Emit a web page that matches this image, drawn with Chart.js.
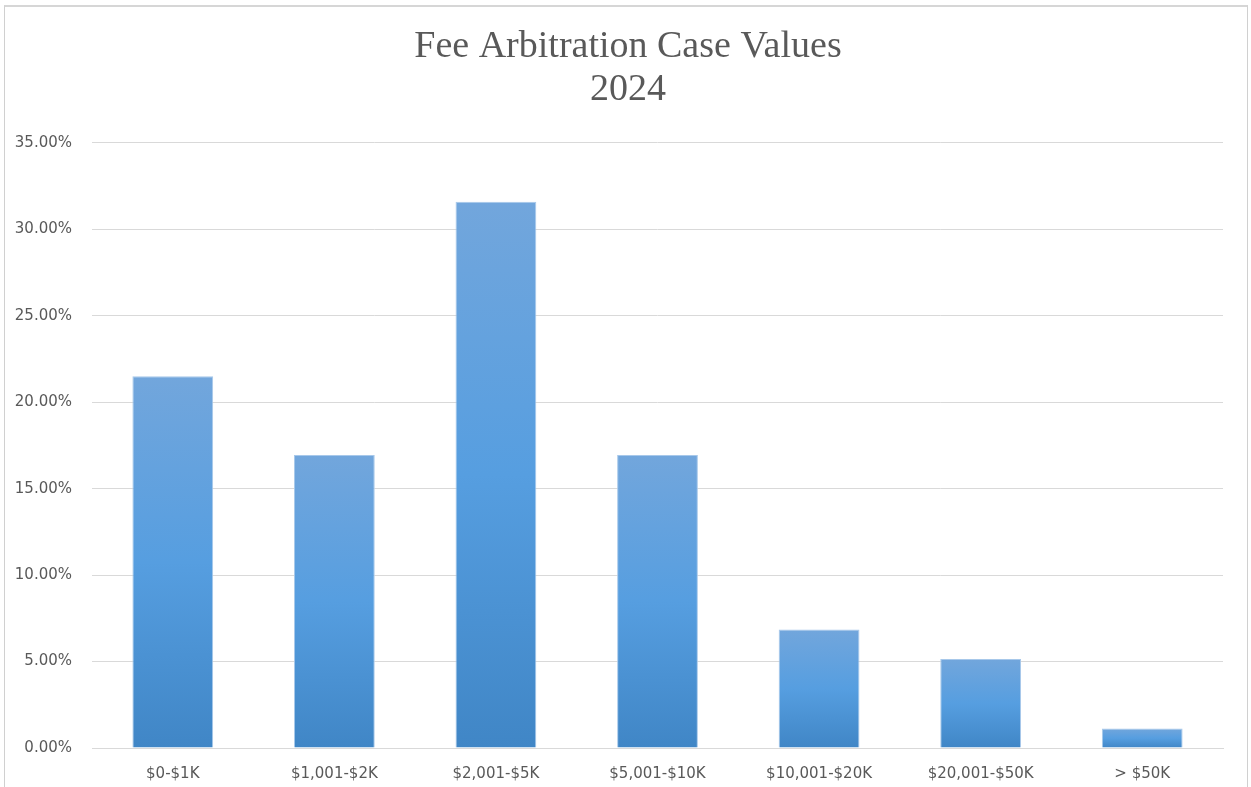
<!DOCTYPE html>
<html>
<head>
<meta charset="utf-8">
<script src="https://cdn.jsdelivr.net/npm/chart.js@4.4.1/dist/chart.umd.min.js"></script>
<style>
  html, body { margin: 0; padding: 0; background: #fff; }
  #wrap { position: relative; width: 1251px; height: 787px; overflow: hidden; }
  #frame {
    position: absolute; left: 4px; top: 5px; width: 1244px; height: 800px;
    border-left: 1px solid #d0d0d0; border-right: 1px solid #d0d0d0; border-top: 2px solid #d6d6d6;
    box-sizing: border-box;
  }
  #chart { position: absolute; left: 0; top: 0; }
</style>
</head>
<body>
<div id="wrap">
  <div id="frame"></div>
  <canvas id="chart" width="1251" height="787"></canvas>
</div>
<script>
// ===============================
// DATOS
// ===============================
const titleLines = ["Fee Arbitration Case Values", "2024"];
const categories = ["$0-$1K", "$1,001-$2K", "$2,001-$5K", "$5,001-$10K", "$10,001-$20K", "$20,001-$50K", "> $50K"];
const shares = [21.5, 16.95, 31.6, 16.95, 6.85, 5.15, 1.13];
const yTicks = [0, 5, 10, 15, 20, 25, 30, 35];

// ===============================
// GRADIENTE POR BARRA (estilo Excel)
// ===============================
function barGradient(ctx) {
  const chart = ctx.chart;
  const y = chart.scales && chart.scales.y;
  if (!chart.chartArea || !y || ctx.raw === undefined) return "#5b9bd5";
  const top = y.getPixelForValue(ctx.raw);
  const base = y.getPixelForValue(0);
  const g = chart.ctx.createLinearGradient(0, top, 0, base);
  g.addColorStop(0, "#72a6dc");
  g.addColorStop(0.5, "#569ee0");
  g.addColorStop(1, "#4086c6");
  return g;
}

// el titulo va centrado en el marco, no en el area del canvas
const centerTitle = {
  id: "centerTitle",
  afterLayout(chart) {
    const tb = chart.titleBlock;
    if (!tb) return;
    const half = chart.chartArea.right - 628;
    tb.left = 628 - half;
    tb.right = 628 + half;
  }
};

new Chart(document.getElementById("chart"), {
  type: "bar",
  data: {
    labels: categories,
    datasets: [{
      data: shares,
      backgroundColor: barGradient,
      borderColor: "#a7c8ea",
      borderWidth: 1,
      barPercentage: 1,
      categoryPercentage: 0.5
    }]
  },
  options: {
    responsive: false,
    animation: false,
    layout: { padding: { left: 0, right: 28, top: 0, bottom: 0 } },
    plugins: {
      legend: { display: false },
      tooltip: { enabled: false },
      title: {
        display: true,
        text: titleLines,
        color: "#595959",
        font: { family: "'Liberation Serif', 'Times New Roman', serif", size: 38, weight: "normal", lineHeight: 1.13 },
        padding: { top: 26, bottom: 31 }
      }
    },
    scales: {
      x: {
        afterFit: scale => { scale.height = 39; },
        grid: { display: false, drawTicks: false },
        border: { display: true, color: "#d9d9d9", width: 1 },
        ticks: {
          color: "#595959",
          font: { family: "'DejaVu Sans', sans-serif", size: 15 },
          padding: 17,
          maxRotation: 0
        }
      },
      y: {
        min: 0,
        max: 35,
        afterFit: scale => { scale.width = 92; },
        afterBuildTicks: scale => { scale.ticks = yTicks.map(v => ({ value: v })); },
        grid: { color: "#d9d9d9", lineWidth: 1, drawTicks: false },
        border: { display: false },
        ticks: {
          color: "#595959",
          font: { family: "'DejaVu Sans', sans-serif", size: 15 },
          padding: 20,
          callback: v => v.toFixed(2) + "%"
        }
      }
    }
  },
  plugins: [centerTitle]
});
</script>
</body>
</html>
